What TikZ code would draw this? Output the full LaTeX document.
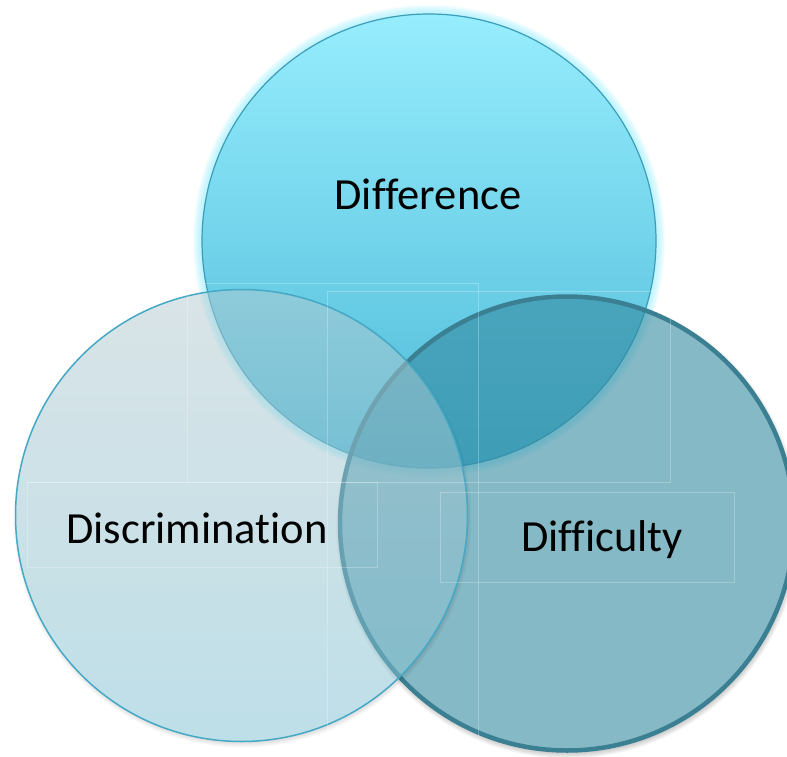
\documentclass[tikz,border=0pt]{standalone}
\usepackage{fontspec}
\setmainfont[Ligatures=NoCommon]{Carlito}
\usetikzlibrary{calc}
\definecolor{topA}{HTML}{96EDFD}
\definecolor{topB}{HTML}{4EBAD8}
\definecolor{topS}{HTML}{3C9DB7}
\definecolor{glowc}{HTML}{9AEEFF}
\definecolor{leftA}{HTML}{B3C9CF}
\definecolor{leftB}{HTML}{7DBFD1}
\definecolor{leftS}{HTML}{45A8C5}
\definecolor{rightF}{HTML}{348AA0}
\definecolor{rightS}{HTML}{3A7F92}
\begin{document}
\begin{tikzpicture}[x=1bp,y=-1bp,
  lbl/.style={font=\fontsize{44.5bp}{52bp}\selectfont, text=black, inner sep=0pt, anchor=base},
  faint/.style={draw=white, draw opacity=0.25, line width=0.6bp}]
\useasboundingbox (0,0) rectangle (787,757);
\clip (0,0) rectangle (787,757);
\coordinate (cT) at (429,241);
\coordinate (cL) at (241.5,515.5);
\coordinate (cR) at (567,523.5);
% glow of top circle
\foreach \k in {1,...,9} \fill[glowc, fill opacity=0.11] (cT) circle[radius=227+\k];
% top circle
\shade[top color=topA, bottom color=topB] (cT) circle[radius=227];
\draw[topS, line width=1.2bp] (cT) circle[radius=227];
% shadow of right circle
\begin{scope}[even odd rule]
  \clip (-20,-20) rectangle (810,780) (cR) circle[radius=227];
  \foreach \k in {0,...,9} \fill[black, fill opacity=0.035] ($(cR)+(1,3)$) circle[radius=223+\k];
\end{scope}
% right circle
\fill[rightF, fill opacity=0.6] (cR) circle[radius=227];
\draw[rightS, line width=4.5bp] (cR) circle[radius=227];
% shadow of left circle
\begin{scope}[even odd rule]
  \clip (-20,-20) rectangle (810,780) (cL) circle[radius=226];
  \foreach \k in {0,...,7} \fill[black, fill opacity=0.025] ($(cL)+(1,3)$) circle[radius=222+\k];
\end{scope}
% left circle
\shade[top color=leftA, bottom color=leftB, fill opacity=0.5] (cL) circle[radius=226];
\draw[leftS, line width=1.5bp] (cL) circle[radius=226];
% faint text-box outlines
\draw[faint] (187,482) -- (187,283) -- (478,283) -- (478,757);
\draw[faint] (327,757) -- (327,291) -- (670,291) -- (670,482) -- (27,482);
\draw[faint] (27,482) rectangle (377,567);
\draw[faint] (440,492) rectangle (734,582);
% labels
\node[lbl] (tDiff) at (428,209) {Difference};
\node[lbl] (tDisc) at (197,543) {Discrimination};
\node[lbl] (tDiffi) at (602,551) {Difficulty};
\end{tikzpicture}
\end{document}
